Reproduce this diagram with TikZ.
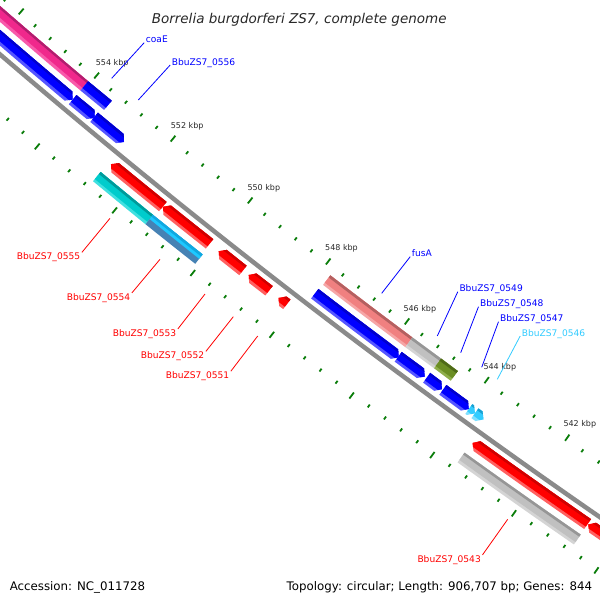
\documentclass[tikz,border=0pt]{standalone}
\usepackage{fontspec}
\setmainfont{DejaVu Sans}
\usetikzlibrary{calc}
\definecolor{tickgreen}{RGB}{10,125,10}
\definecolor{bbgray}{RGB}{138,138,138}
\definecolor{fblueL}{RGB}{85,85,255}
\definecolor{fblue}{RGB}{0,0,255}
\definecolor{fblueD}{RGB}{0,0,205}
\definecolor{fpinkL}{RGB}{248,90,170}
\definecolor{fpink}{RGB}{240,40,140}
\definecolor{fpinkD}{RGB}{176,30,110}
\definecolor{fsalL}{RGB}{246,166,166}
\definecolor{fsal}{RGB}{240,128,128}
\definecolor{fsalD}{RGB}{180,96,96}
\definecolor{fgrayL}{RGB}{212,212,212}
\definecolor{fgray}{RGB}{192,192,192}
\definecolor{fgrayD}{RGB}{150,150,150}
\definecolor{folivL}{RGB}{143,174,74}
\definecolor{foliv}{RGB}{107,142,35}
\definecolor{folivD}{RGB}{78,106,24}
\definecolor{fredL}{RGB}{255,96,96}
\definecolor{fred}{RGB}{255,0,0}
\definecolor{fredD}{RGB}{208,0,0}
\definecolor{fcyanL}{RGB}{64,224,224}
\definecolor{fcyan}{RGB}{0,204,204}
\definecolor{fcyanD}{RGB}{0,154,154}
\definecolor{fskyL}{RGB}{70,130,180}
\definecolor{fsky}{RGB}{30,200,255}
\definecolor{fskyD}{RGB}{16,168,224}
\definecolor{fltL}{RGB}{128,224,255}
\definecolor{flt}{RGB}{51,204,255}
\definecolor{fltD}{RGB}{26,160,208}
\definecolor{labblue}{RGB}{0,0,255}
\definecolor{labred}{RGB}{255,0,0}
\definecolor{labsky}{RGB}{51,204,255}
\definecolor{txtgray}{RGB}{40,40,40}

\newcommand{\lightw}{3}
\newcommand{\darkw}{2.5}
% #1 lo kbp, #2 hi kbp, #3 r inner, #4 r outer, #5 type (0 flat, 1 head at hi, 2 head at lo), #6 head kbp, #7 light, #8 main, #9 dark
\newcommand{\feature}[9]{%
  \pgfmathsetmacro\aLo{-127.578578-(#1-548)*0.3970412}%
  \pgfmathsetmacro\aHi{-127.578578-(#2-548)*0.3970412}%
  \pgfmathsetmacro\rM{(#3+#4)/2}%
  \pgfmathsetmacro\rA{#4-\lightw}%
  \pgfmathsetmacro\rB{#3+\darkw}%
  \pgfmathsetmacro\aHb{\aHi+#6*0.3970412}%
  \pgfmathsetmacro\aLb{\aLo-#6*0.3970412}%
  \pgfmathsetmacro\cA{\aLo+0.5}%
  \pgfmathsetmacro\cB{\aHi-0.5}%
  \ifcase#5\relax
    \def\fshape{(\aLo:#3pt) arc[start angle=\aLo,end angle=\aHi,radius=#3pt] -- (\aHi:#4pt) arc[start angle=\aHi,end angle=\aLo,radius=#4pt] -- cycle}%
  \or
    \def\fshape{(\aLo:#3pt) arc[start angle=\aLo,end angle=\aHb,radius=#3pt] -- (\aHi:\rM pt) -- (\aHb:#4pt) arc[start angle=\aHb,end angle=\aLo,radius=#4pt] -- cycle}%
  \or
    \def\fshape{(\aHi:#3pt) arc[start angle=\aHi,end angle=\aLb,radius=#3pt] -- (\aLo:\rM pt) -- (\aLb:#4pt) arc[start angle=\aLb,end angle=\aHi,radius=#4pt] -- cycle}%
  \fi
  \fill[#7] \fshape;
  \begin{scope}
    \clip (0,0) -- (\cA:\rA pt) arc[start angle=\cA,end angle=\cB,radius=\rA pt] -- cycle;
    \fill[#8] \fshape;
  \end{scope}
  \begin{scope}
    \clip (0,0) -- (\cA:\rB pt) arc[start angle=\cA,end angle=\cB,radius=\rB pt] -- cycle;
    \fill[#9] \fshape;
  \end{scope}
}

\tikzset{
  tickline/.style={draw=tickgreen, line width=1.8pt},
  flab/.style={anchor=base west, inner xsep=1.5pt, inner ysep=0pt, font=\fontsize{9.1}{10}\selectfont},
  klab/.style={anchor=base west, inner sep=0pt, text=txtgray, font=\fontsize{8}{9}\selectfont},
  lline/.style={line width=0.8pt},
  foot/.style={inner sep=0pt, text=black, font=\fontsize{11.8}{14}\selectfont}
}

\begin{document}
\begin{tikzpicture}[x=1pt,y=1pt]
\useasboundingbox (0,0) rectangle (600,-600);
\fill[white] (0,0) rectangle (600,-600);
\clip (0,0) rectangle (600,-600);

\begin{scope}[shift={(4684,5399)}]
  % backbone
  \pgfmathsetmacro\bbA{-127.578578-(536-548)*0.3970412}
  \pgfmathsetmacro\bbB{-127.578578-(560-548)*0.3970412}
  \draw[bbgray, line width=4.5pt] (\bbA:7189.25pt) arc[start angle=\bbA, end angle=\bbB, radius=7189.25pt];

  % ticks
  \foreach \i in {0,...,57} {
    \pgfmathsetmacro\tb{537.2+0.4*\i}
    \pgfmathsetmacro\ta{-127.578578-(\tb-548)*0.3970412}
    \pgfmathtruncatemacro\tm{mod(\i,5)}
    \ifnum\tm=2
      \draw[tickline] (\ta:7139pt) -- (\ta:7146.5pt);
      \draw[tickline] (\ta:7231.5pt) -- (\ta:7239pt);
    \else
      \draw[tickline] (\ta:7142.8pt) -- (\ta:7146.3pt);
      \draw[tickline] (\ta:7231.8pt) -- (\ta:7235.3pt);
    \fi
  }

  % reverse strand, slot 2 (genes)
  \feature{554.056}{558.5}{7152.5}{7164.5}{0}{0}{fpinkL}{fpink}{fpinkD}
  \feature{553.44}{554.056}{7152.5}{7164.5}{0}{0}{fblueL}{fblue}{fblueD}
  \feature{545.717}{547.795}{7152.5}{7164.5}{0}{0}{fsalL}{fsal}{fsalD}
  \feature{545.00}{545.717}{7152.5}{7164.5}{0}{0}{fgrayL}{fgray}{fgrayD}
  \feature{544.58}{545.00}{7152.5}{7164.5}{0}{0}{folivL}{foliv}{folivD}

  % reverse strand, slot 1 (CDS)
  \feature{554.06}{558.5}{7170.5}{7182.5}{2}{0.11}{fblueL}{fblue}{fblueD}
  \feature{553.48}{554.06}{7170.5}{7182.5}{2}{0.11}{fblueL}{fblue}{fblueD}
  \feature{552.72}{553.50}{7170.5}{7182.5}{2}{0.11}{fblueL}{fblue}{fblueD}
  \feature{545.70}{547.82}{7170.5}{7182.5}{2}{0.11}{fblueL}{fblue}{fblueD}
  \feature{545.05}{545.715}{7170.5}{7182.5}{2}{0.11}{fblueL}{fblue}{fblueD}
  \feature{544.62}{545.005}{7170.5}{7182.5}{2}{0.11}{fblueL}{fblue}{fblueD}
  \feature{543.95}{544.60}{7170.5}{7182.5}{2}{0.11}{fblueL}{fblue}{fblueD}
  \feature{543.80}{543.95}{7170.5}{7182.5}{2}{0.11}{fltL}{flt}{fltD}
  \feature{543.59}{543.80}{7170.5}{7182.5}{2}{0.11}{fltL}{flt}{fltD}

  % forward strand, slot 1 (CDS)
  \feature{551.298}{552.64}{7196}{7208}{1}{0.11}{fredL}{fred}{fredD}
  \feature{550.10}{551.296}{7196}{7208}{1}{0.11}{fredL}{fred}{fredD}
  \feature{549.245}{549.865}{7196}{7208}{1}{0.11}{fredL}{fred}{fredD}
  \feature{548.583}{549.10}{7196}{7208}{1}{0.11}{fredL}{fred}{fredD}
  \feature{548.136}{548.345}{7196}{7208}{1}{0.11}{fredL}{fred}{fredD}
  \feature{540.67}{543.49}{7196}{7208}{1}{0.11}{fredL}{fred}{fredD}
  \feature{536.0}{540.655}{7196}{7208}{1}{0.11}{fredL}{fred}{fredD}

  % forward strand, slot 2 (genes)
  \feature{551.346}{552.70}{7214.5}{7226.5}{0}{0}{fcyanL}{fcyan}{fcyanD}
  \renewcommand{\lightw}{6.5}
  \feature{550.076}{551.346}{7214.5}{7226.5}{0}{0}{fskyL}{fsky}{fskyD}
  \renewcommand{\lightw}{3}
  \feature{540.664}{543.506}{7214.5}{7226.5}{0}{0}{fgrayL}{fgray}{fgrayD}
\end{scope}

% tick labels
\node[klab] (k554) at (95.7,-65) {554 kbp};
\node[klab] (k552) at (170.7,-128.3) {552 kbp};
\node[klab] (k550) at (247.3,-190) {550 kbp};
\node[klab] (k548) at (325,-250.7) {548 kbp};
\node[klab] (k546) at (403.3,-311.7) {546 kbp};
\node[klab] (k544) at (483.3,-369.3) {544 kbp};
\node[klab] (k542) at (563.3,-426) {542 kbp};

% feature labels (reverse strand, blue)
\node[flab, text=labblue] (lcoaE) at (144.2,-42.7) {coaE};
\node[flab, text=labblue] (l0556) at (170.2,-65) {BbuZS7\_0556};
\node[flab, text=labblue] (lfusA) at (410.2,-256.7) {fusA};
\node[flab, text=labblue] (l0549) at (457.8,-291.7) {BbuZS7\_0549};
\node[flab, text=labblue] (l0548) at (478.5,-306.7) {BbuZS7\_0548};
\node[flab, text=labblue] (l0547) at (498.5,-321.7) {BbuZS7\_0547};
\node[flab, text=labsky] (l0546) at (520.2,-336) {BbuZS7\_0546};
% feature labels (forward strand, red)
\node[flab, text=labred] (l0555) at (15.2,-259.5) {BbuZS7\_0555};
\node[flab, text=labred] (l0554) at (65.2,-300) {BbuZS7\_0554};
\node[flab, text=labred] (l0553) at (111.2,-336) {BbuZS7\_0553};
\node[flab, text=labred] (l0552) at (139.2,-358.5) {BbuZS7\_0552};
\node[flab, text=labred] (l0551) at (164.2,-378.3) {BbuZS7\_0551};
\node[flab, text=labred] (l0543) at (415.8,-562) {BbuZS7\_0543};

% connector anchors on features
\coordinate (pcoaE) at (111.7,-78.3);
\coordinate (p0556) at (138.3,-100);
\coordinate (pfusA) at (381.7,-293.3);
\coordinate (p0549) at (437.3,-336);
\coordinate (p0548) at (460.7,-352.7);
\coordinate (p0547) at (481.7,-367.3);
\coordinate (p0546) at (497.3,-379.3);
\coordinate (p0555) at (110,-218.3);
\coordinate (p0554) at (160,-259.3);
\coordinate (p0553) at (205,-294);
\coordinate (p0552) at (233.3,-316.7);
\coordinate (p0551) at (257.7,-336);
\coordinate (p0543) at (507.7,-519.3);

\draw[lline, labblue] (pcoaE) -- (lcoaE.base west);
\draw[lline, labblue] (p0556) -- (l0556.base west);
\draw[lline, labblue] (pfusA) -- (lfusA.base west);
\draw[lline, labblue] (p0549) -- (l0549.base west);
\draw[lline, labblue] (p0548) -- (l0548.base west);
\draw[lline, labblue] (p0547) -- (l0547.base west);
\draw[lline, labsky] (p0546) -- (l0546.base west);
\draw[lline, labred] (p0555) -- (l0555.north east);
\draw[lline, labred] (p0554) -- (l0554.north east);
\draw[lline, labred] (p0553) -- (l0553.north east);
\draw[lline, labred] (p0552) -- (l0552.north east);
\draw[lline, labred] (p0551) -- (l0551.north east);
\draw[lline, labred] (p0543) -- (l0543.north east);

% title and footer
\node[anchor=base, inner sep=0pt, text=txtgray, font=\fontsize{13.5}{16}\selectfont\itshape] (title) at (299.2,-23.3) {Borrelia burgdorferi ZS7, complete genome};
\node[foot, anchor=base west] (acc) at (9.6,-590.5) {Accession: NC\_011728};
\node[foot, anchor=base east] (topo) at (592.3,-590.5) {Topology: circular; Length: 906,707 bp; Genes: 844};
\end{tikzpicture}
\end{document}
